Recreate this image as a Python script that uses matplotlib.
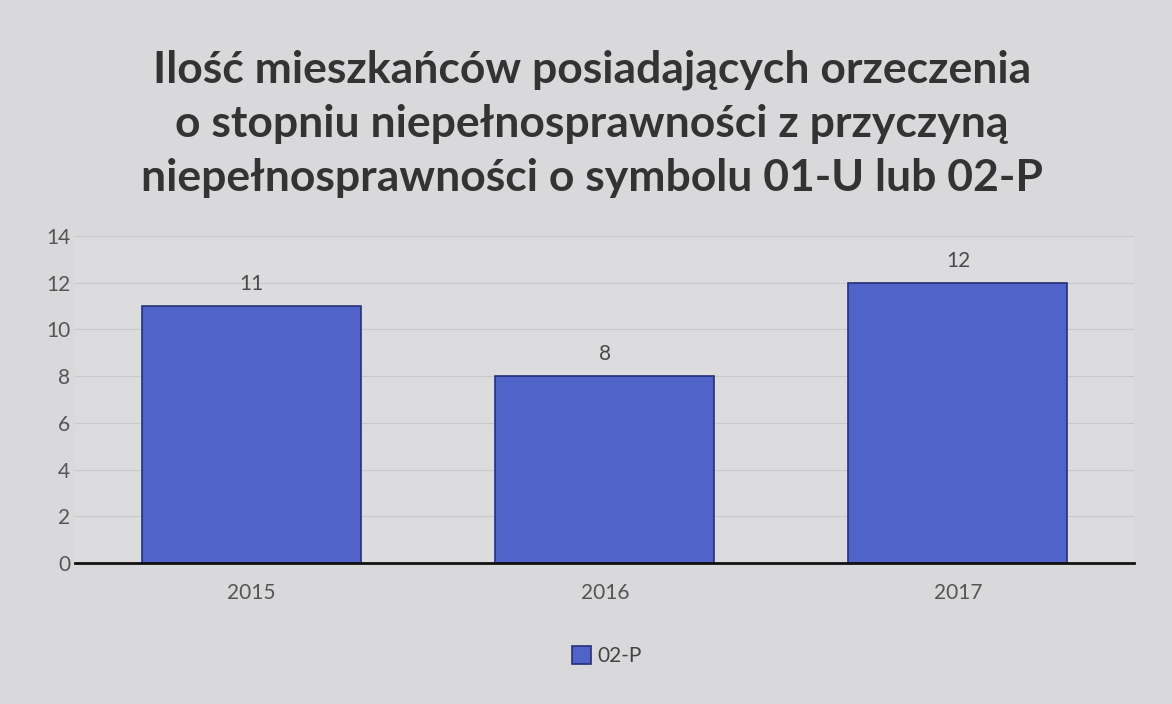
import matplotlib.pyplot as plt
import numpy as np

years = ["2015", "2016", "2017"]
values = [11, 8, 12]
series_name = "02-P"
title = ("Ilość mieszkańców posiadających orzeczenia\n"
         "o stopniu niepełnosprawności z przyczyną\n"
         "niepełnosprawności o symbolu 01-U lub 02-P")

plt.rcParams['font.family'] = ['Lato', 'DejaVu Sans']

fig = plt.figure(figsize=(11.72, 7.04), dpi=100)
fig.patch.set_facecolor('#d9d9db')
ax = fig.add_axes([0.064, 0.2, 0.904, 0.465])
ax.set_facecolor('#dcdcde')

x = np.arange(len(years))
bars = ax.bar(x, values, width=0.62, color='#4f63c9', edgecolor='#27307a',
              linewidth=1.2, label=series_name, zorder=3)
for xi, v in zip(x, values):
    ax.text(xi, v + 0.5, str(v), ha='center', va='bottom', fontsize=15,
            color='#4a4a4a')

ax.set_xlim(-0.5, len(years) - 0.5)
ax.set_ylim(0, 14)
ax.set_yticks(range(0, 15, 2))
ax.set_xticks(x)
ax.set_xticklabels(years)
ax.tick_params(axis='both', length=0, labelsize=15, colors='#555555')
ax.tick_params(axis='x', pad=14)
ax.grid(axis='y', color='#c8c8ca', linewidth=0.8, zorder=0)
for side in ['top', 'right', 'left']:
    ax.spines[side].set_visible(False)
ax.spines['bottom'].set_color('#111111')
ax.spines['bottom'].set_linewidth(2)
ax.spines['bottom'].set_zorder(4)

fig.text(0.505, 0.93, title, ha='center', va='top', fontsize=32,
         fontweight='bold', color='#333333', linespacing=1.42)

fig.legend(loc='center', bbox_to_anchor=(0.518, 0.068), frameon=False,
           fontsize=15, handlelength=0.9, handleheight=0.9, handletextpad=0.3,
           labelcolor='#444444')

fig.savefig('out.png', dpi=100, facecolor=fig.get_facecolor())
